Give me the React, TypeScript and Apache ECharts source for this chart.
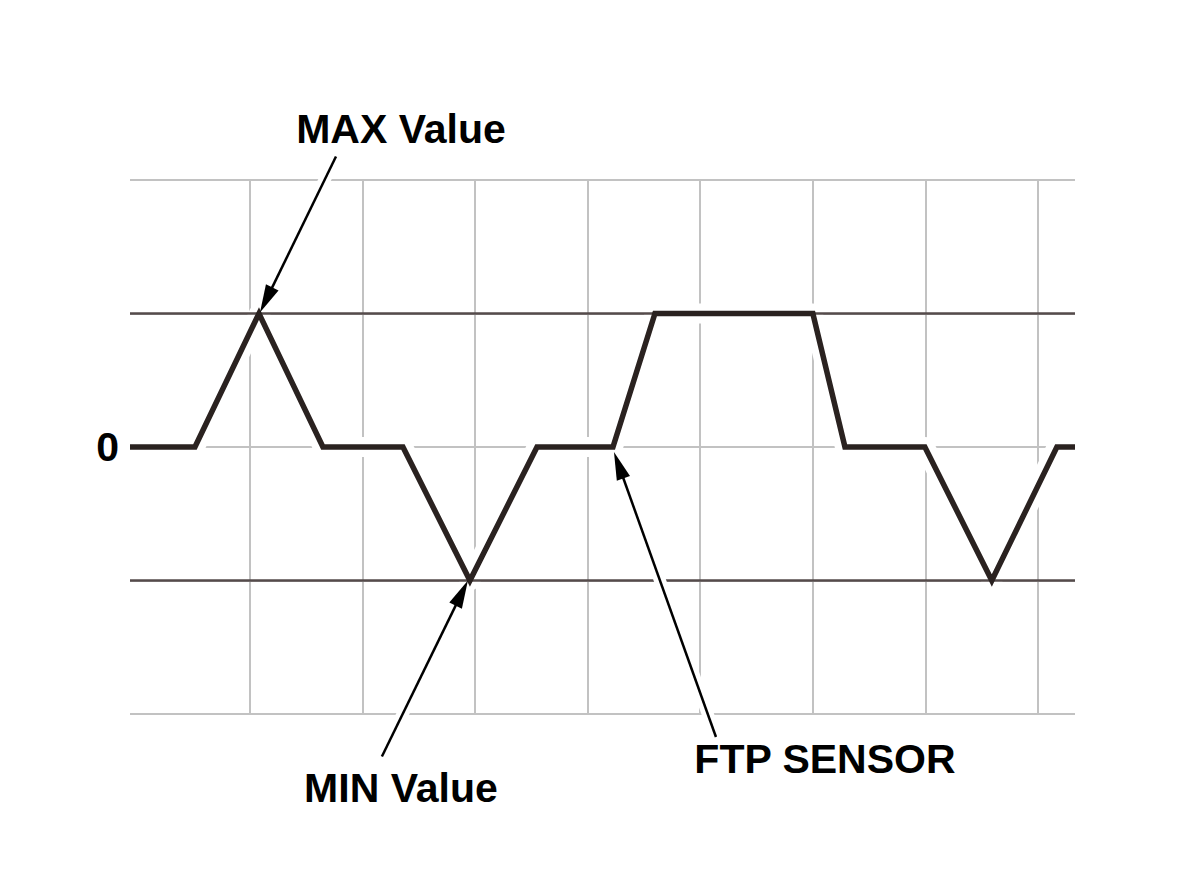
import React, { useEffect, useRef } from 'react';
import * as echarts from 'echarts';

// ---- data ----
const X_MIN = -0.066;
const X_MAX = 8.33;
const timeDivs = [-0.066, 0.511, 1.08, 1.648, 2.359, 2.954, 3.55, 4.225, 4.598, 6.001, 6.286, 6.996, 7.591, 8.169, 8.33];
const signalLevels = [0, 0, 1, 0, 0, -1, 0, 0, 1, 1, 0, 0, -1, 0, 0];
const divisionLines = [1, 2, 3, 4, 5, 6, 7, 8];
const limitLevels = [1, -1];
const zeroTickLabel = '0';
const annotationTexts = ['MAX Value', 'MIN Value', 'FTP SENSOR'];
const annotationTargets: number[][] = [[1.08, 1], [2.954, -1], [4.225, 0]];

// ---- layout / style (pixel offsets from each target) ----
const ANNOT_LAYOUT = [
  { tip: [1, -1], tail: [77, -157], label: [142, -185] },
  { tip: [-2, 0], tail: [-88, 176], label: [-69, 207] },
  { tip: [1, 5], tail: [103, 290], label: [212, 312] },
];
const FONT = '"Liberation Sans", Arial, Helvetica, sans-serif';
const GRID_GRAY = '#c2c2c2';
const LIMIT_COLOR = '#554b4b';
const WAVE_COLOR = '#2a2220';

export default function App() {
  const ref = useRef<HTMLDivElement>(null);
  useEffect(() => {
    const chart = echarts.init(ref.current!, null, { renderer: 'svg' });
    const signalData = timeDivs.map((t, i) => [t, signalLevels[i]]);
    chart.setOption({
      animation: false,
      backgroundColor: '#ffffff',
      grid: { left: 130, right: 125, top: 180, bottom: 164 },
      xAxis: { type: 'value', min: X_MIN, max: X_MAX, show: false },
      yAxis: {
        type: 'value',
        min: -2,
        max: 2,
        interval: 1,
        axisLine: { show: false },
        axisTick: { show: false },
        axisLabel: {
          formatter: (v: number) => (v === 0 ? zeroTickLabel : ''),
          margin: 11,
          color: '#000',
          fontSize: 41,
          fontWeight: 'bold',
          fontFamily: FONT,
        },
        splitLine: { show: true, lineStyle: { color: GRID_GRAY, width: 2, type: 'solid' } },
      },
      series: [
        {
          type: 'line',
          data: [],
          z: 1,
          silent: true,
          markLine: {
            z: 1,
            silent: true,
            symbol: ['none', 'none'],
            label: { show: false },
            emphasis: { disabled: true },
            lineStyle: { color: GRID_GRAY, width: 2, type: 'solid' },
            data: divisionLines.map((x) => ({ xAxis: x })),
          },
        },
        {
          type: 'line',
          data: signalData,
          z: 2,
          silent: true,
          symbol: 'none',
          lineStyle: { color: '#ffffff', width: 20, join: 'round', cap: 'butt' },
        },
        {
          type: 'line',
          data: [],
          z: 3,
          silent: true,
          markLine: {
            z: 3,
            silent: true,
            symbol: ['none', 'none'],
            label: { show: false },
            emphasis: { disabled: true },
            lineStyle: { color: LIMIT_COLOR, width: 2.5, type: 'solid' },
            data: limitLevels.map((y) => ({ yAxis: y })),
          },
        },
        {
          type: 'line',
          data: signalData,
          z: 4,
          silent: true,
          symbol: 'none',
          lineStyle: { color: WAVE_COLOR, width: 5.5, join: 'miter', cap: 'butt' },
        },
      ],
    });

    const graphics: any[] = [];
    annotationTargets.forEach((target, i) => {
      const p = chart.convertToPixel({ gridIndex: 0 }, target) as number[];
      const lay = ANNOT_LAYOUT[i];
      const tx = p[0] + lay.tip[0];
      const ty = p[1] + lay.tip[1];
      const ax = p[0] + lay.tail[0];
      const ay = p[1] + lay.tail[1];
      const dx = ax - tx;
      const dy = ay - ty;
      const len = Math.sqrt(dx * dx + dy * dy);
      const ux = dx / len;
      const uy = dy / len;
      const nx = -uy;
      const ny = ux;
      const L = 28;
      const W = 7;
      const bx = tx + ux * L;
      const by = ty + uy * L;
      const hx = tx + ux * 45;
      const hy = ty + uy * 45;
      graphics.push({
        type: 'line',
        z: 10,
        silent: true,
        shape: { x1: ax, y1: ay, x2: hx, y2: hy },
        style: { stroke: '#ffffff', lineWidth: 12 },
      });
      graphics.push({
        type: 'line',
        z: 11,
        silent: true,
        shape: { x1: ax, y1: ay, x2: bx - ux * 2, y2: by - uy * 2 },
        style: { stroke: '#000000', lineWidth: 2.5 },
      });
      graphics.push({
        type: 'polygon',
        z: 11,
        silent: true,
        shape: { points: [[tx, ty], [bx + nx * W, by + ny * W], [bx - nx * W, by - ny * W]] },
        style: { fill: '#000000' },
      });
      graphics.push({
        type: 'text',
        z: 11,
        silent: true,
        x: p[0] + lay.label[0],
        y: p[1] + lay.label[1],
        style: {
          text: annotationTexts[i],
          fill: '#000000',
          fontSize: 41,
          fontWeight: 'bold',
          fontFamily: FONT,
          align: 'center',
          verticalAlign: 'middle',
        },
      });
    });
    chart.setOption({ graphic: graphics });

    return () => chart.dispose();
  }, []);

  return (
    <div
      ref={ref}
      style={{ position: 'absolute', left: 0, top: 0, width: 1200, height: 878, background: '#fff' }}
    />
  );
}
